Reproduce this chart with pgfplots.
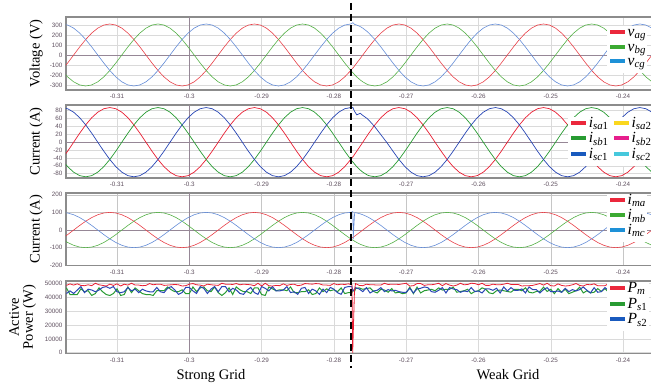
\documentclass[border=0pt]{standalone}
\usepackage{pgfplots}
\pgfplotsset{compat=1.18}
\usepackage{pgfplotstable}
\usepackage{fontspec}
\setmainfont{Liberation Serif}
\setsansfont{Liberation Sans}

\definecolor{lred}{RGB}{232,64,72}
\definecolor{lgreen}{RGB}{84,176,70}
\definecolor{lblue}{RGB}{100,140,215}
\definecolor{dred}{RGB}{232,30,50}
\definecolor{dgreen}{RGB}{40,155,50}
\definecolor{dblue}{RGB}{40,70,180}
\definecolor{legred}{RGB}{235,40,60}
\definecolor{leggreen}{RGB}{60,170,50}
\definecolor{legblue}{RGB}{30,145,215}
\definecolor{legdblue}{RGB}{25,90,190}
\definecolor{legyellow}{RGB}{250,215,30}
\definecolor{legmag}{RGB}{230,30,140}
\definecolor{legcyan}{RGB}{70,200,220}
\definecolor{tickc}{RGB}{95,80,95}
\definecolor{framec}{RGB}{140,140,140}
\definecolor{gridc}{RGB}{218,218,218}
\definecolor{zeroc}{RGB}{150,135,150}

\pgfplotstableread{
t va vb vc ia ib ic ma mb mc
-0.317667 -155 -155 310 -44 -44 88 -50 -50 100
-0.316833 -80.2 -219.2 299.4 -22.8 -62.2 85.0 -25.9 -70.7 96.6
-0.316000 0 -268.5 268.5 0 -76.2 76.2 0 -86.6 86.6
-0.315167 80.2 -299.4 219.2 22.8 -85.0 62.2 25.9 -96.6 70.7
-0.314333 155 -310 155 44 -88 44 50 -100 50
-0.313500 219.2 -299.4 80.2 62.2 -85.0 22.8 70.7 -96.6 25.9
-0.312667 268.5 -268.5 0 76.2 -76.2 0 86.6 -86.6 0
-0.311833 299.4 -219.2 -80.2 85.0 -62.2 -22.8 96.6 -70.7 -25.9
-0.311000 310 -155 -155 88 -44 -44 100 -50 -50
-0.310167 299.4 -80.2 -219.2 85.0 -22.8 -62.2 96.6 -25.9 -70.7
-0.309333 268.5 0 -268.5 76.2 0 -76.2 86.6 0 -86.6
-0.308500 219.2 80.2 -299.4 62.2 22.8 -85.0 70.7 25.9 -96.6
-0.307667 155 155 -310 44 44 -88 50 50 -100
-0.306833 80.2 219.2 -299.4 22.8 62.2 -85.0 25.9 70.7 -96.6
-0.306000 0 268.5 -268.5 0 76.2 -76.2 0 86.6 -86.6
-0.305167 -80.2 299.4 -219.2 -22.8 85.0 -62.2 -25.9 96.6 -70.7
-0.304333 -155 310 -155 -44 88 -44 -50 100 -50
-0.303500 -219.2 299.4 -80.2 -62.2 85.0 -22.8 -70.7 96.6 -25.9
-0.302667 -268.5 268.5 0 -76.2 76.2 0 -86.6 86.6 0
-0.301833 -299.4 219.2 80.2 -85.0 62.2 22.8 -96.6 70.7 25.9
-0.301000 -310 155 155 -88 44 44 -100 50 50
-0.300167 -299.4 80.2 219.2 -85.0 22.8 62.2 -96.6 25.9 70.7
-0.299333 -268.5 0 268.5 -76.2 0 76.2 -86.6 0 86.6
-0.298500 -219.2 -80.2 299.4 -62.2 -22.8 85.0 -70.7 -25.9 96.6
-0.297667 -155 -155 310 -44 -44 88 -50 -50 100
-0.296833 -80.2 -219.2 299.4 -22.8 -62.2 85.0 -25.9 -70.7 96.6
-0.296000 0 -268.5 268.5 0 -76.2 76.2 0 -86.6 86.6
-0.295167 80.2 -299.4 219.2 22.8 -85.0 62.2 25.9 -96.6 70.7
-0.294333 155 -310 155 44 -88 44 50 -100 50
-0.293500 219.2 -299.4 80.2 62.2 -85.0 22.8 70.7 -96.6 25.9
-0.292667 268.5 -268.5 0 76.2 -76.2 0 86.6 -86.6 0
-0.291833 299.4 -219.2 -80.2 85.0 -62.2 -22.8 96.6 -70.7 -25.9
-0.291000 310 -155 -155 88 -44 -44 100 -50 -50
-0.290167 299.4 -80.2 -219.2 85.0 -22.8 -62.2 96.6 -25.9 -70.7
-0.289333 268.5 0 -268.5 76.2 0 -76.2 86.6 0 -86.6
-0.288500 219.2 80.2 -299.4 62.2 22.8 -85.0 70.7 25.9 -96.6
-0.287667 155 155 -310 44 44 -88 50 50 -100
-0.286833 80.2 219.2 -299.4 22.8 62.2 -85.0 25.9 70.7 -96.6
-0.286000 0 268.5 -268.5 0 76.2 -76.2 0 86.6 -86.6
-0.285167 -80.2 299.4 -219.2 -22.8 85.0 -62.2 -25.9 96.6 -70.7
-0.284333 -155 310 -155 -44 88 -44 -50 100 -50
-0.283500 -219.2 299.4 -80.2 -62.2 85.0 -22.8 -70.7 96.6 -25.9
-0.282667 -268.5 268.5 0 -76.2 76.2 0 -86.6 86.6 0
-0.281833 -299.4 219.2 80.2 -85.0 62.2 22.8 -96.6 70.7 25.9
-0.281000 -310 155 155 -88 44 44 -100 50 50
-0.280167 -299.4 80.2 219.2 -85.0 22.8 62.2 -96.6 25.9 70.7
-0.279333 -268.5 0 268.5 -76.2 0 76.2 -86.6 0 86.6
-0.278500 -219.2 -80.2 299.4 -62.2 -22.8 85.0 -70.7 -25.9 96.6
-0.277667 -155 -155 310 -44 -44 88 -50 -50 100
-0.277370 -129.5 -179.2 323 -36.8 -50.9 88.6 -41.8 -57.8 105
-0.277330 -128.3 -179.9 321 -36.4 -51.2 86 -41.4 -58.2 -52
-0.277130 -108.1 -197.6 305.7 -30.7 -56.1 78 -34.9 -63.7 98.6
-0.276833 -80.2 -219.2 299.4 -22.8 -62.2 69.5 -25.9 -70.7 96.6
-0.276360 -35.1 -249.2 284.3 -10.0 -70.8 73.4 -11.3 -80.4 91.7
-0.276000 0 -268.5 268.5 0 -76.2 68 0 -86.6 86.6
-0.275440 54.4 -291.5 237.2 15.4 -82.7 60.7 17.5 -94.0 76.5
-0.275167 80.2 -299.4 219.2 22.8 -85.0 56 25.9 -96.6 70.7
-0.274333 155 -310 155 44 -88 39 50 -100 50
-0.273500 219.2 -299.4 80.2 62.2 -85.0 19 70.7 -96.6 25.9
-0.272667 268.5 -268.5 0 76.2 -76.2 -1 86.6 -86.6 0
-0.271833 299.4 -219.2 -80.2 85.0 -62.2 -22.8 96.6 -70.7 -25.9
-0.271000 310 -155 -155 88 -44 -44 100 -50 -50
-0.270167 299.4 -80.2 -219.2 85.0 -22.8 -62.2 96.6 -25.9 -70.7
-0.269333 268.5 0 -268.5 76.2 0 -76.2 86.6 0 -86.6
-0.268500 219.2 80.2 -299.4 62.2 22.8 -85.0 70.7 25.9 -96.6
-0.267667 155 155 -310 44 44 -88 50 50 -100
-0.266833 80.2 219.2 -299.4 22.8 62.2 -85.0 25.9 70.7 -96.6
-0.266000 0 268.5 -268.5 0 76.2 -76.2 0 86.6 -86.6
-0.265167 -80.2 299.4 -219.2 -22.8 85.0 -62.2 -25.9 96.6 -70.7
-0.264333 -155 310 -155 -44 88 -44 -50 100 -50
-0.263500 -219.2 299.4 -80.2 -62.2 85.0 -22.8 -70.7 96.6 -25.9
-0.262667 -268.5 268.5 0 -76.2 76.2 0 -86.6 86.6 0
-0.261833 -299.4 219.2 80.2 -85.0 62.2 22.8 -96.6 70.7 25.9
-0.261000 -310 155 155 -88 44 44 -100 50 50
-0.260167 -299.4 80.2 219.2 -85.0 22.8 62.2 -96.6 25.9 70.7
-0.259333 -268.5 0 268.5 -76.2 0 76.2 -86.6 0 86.6
-0.258500 -219.2 -80.2 299.4 -62.2 -22.8 85.0 -70.7 -25.9 96.6
-0.257667 -155 -155 310 -44 -44 88 -50 -50 100
-0.256833 -80.2 -219.2 299.4 -22.8 -62.2 85.0 -25.9 -70.7 96.6
-0.256000 0 -268.5 268.5 0 -76.2 76.2 0 -86.6 86.6
-0.255167 80.2 -299.4 219.2 22.8 -85.0 62.2 25.9 -96.6 70.7
-0.254333 155 -310 155 44 -88 44 50 -100 50
-0.253500 219.2 -299.4 80.2 62.2 -85.0 22.8 70.7 -96.6 25.9
-0.252667 268.5 -268.5 0 76.2 -76.2 0 86.6 -86.6 0
-0.251833 299.4 -219.2 -80.2 85.0 -62.2 -22.8 96.6 -70.7 -25.9
-0.251000 310 -155 -155 88 -44 -44 100 -50 -50
-0.250167 299.4 -80.2 -219.2 85.0 -22.8 -62.2 96.6 -25.9 -70.7
-0.249333 268.5 0 -268.5 76.2 0 -76.2 86.6 0 -86.6
-0.248500 219.2 80.2 -299.4 62.2 22.8 -85.0 70.7 25.9 -96.6
-0.247667 155 155 -310 44 44 -88 50 50 -100
-0.246833 80.2 219.2 -299.4 22.8 62.2 -85.0 25.9 70.7 -96.6
-0.246000 0 268.5 -268.5 0 76.2 -76.2 0 86.6 -86.6
-0.245167 -80.2 299.4 -219.2 -22.8 85.0 -62.2 -25.9 96.6 -70.7
-0.244333 -155 310 -155 -44 88 -44 -50 100 -50
-0.243500 -219.2 299.4 -80.2 -62.2 85.0 -22.8 -70.7 96.6 -25.9
-0.242667 -268.5 268.5 0 -76.2 76.2 0 -86.6 86.6 0
-0.241833 -299.4 219.2 80.2 -85.0 62.2 22.8 -96.6 70.7 25.9
-0.241000 -310 155 155 -88 44 44 -100 50 50
-0.240167 -299.4 80.2 219.2 -85.0 22.8 62.2 -96.6 25.9 70.7
-0.239333 -268.5 0 268.5 -76.2 0 76.2 -86.6 0 86.6
-0.238500 -219.2 -80.2 299.4 -62.2 -22.8 85.0 -70.7 -25.9 96.6
-0.237667 -155 -155 310 -44 -44 88 -50 -50 100
-0.236833 -80.2 -219.2 299.4 -22.8 -62.2 85.0 -25.9 -70.7 96.6
-0.236000 0 -268.5 268.5 0 -76.2 76.2 0 -86.6 86.6
-0.235167 80.2 -299.4 219.2 22.8 -85.0 62.2 25.9 -96.6 70.7
}\sine

\pgfplotstableread{
t pm ps1 ps2
-0.3170 48440 46640 42620
-0.3165 49540 41880 44480
-0.3160 48660 41880 42620
-0.3155 49540 41880 45100
-0.3150 48440 45960 47580
-0.3145 48220 43920 43240
-0.3140 48880 44600 45720
-0.3135 48220 41200 45100
-0.3130 49980 42560 43860
-0.3125 48880 46640 45100
-0.3120 48440 43920 46960
-0.3115 48000 41880 47580
-0.3110 49320 41200 46340
-0.3105 48440 42560 47580
-0.3100 49540 45960 43860
-0.3095 48000 41200 43240
-0.3090 49320 41880 43860
-0.3085 48660 47320 46960
-0.3080 49980 43240 44480
-0.3075 48660 46640 45720
-0.3070 48660 44600 43240
-0.3065 48220 42560 45720
-0.3060 48440 41880 44480
-0.3055 49760 41880 43860
-0.3050 48880 41200 43860
-0.3045 49320 44600 46960
-0.3040 49320 44600 43860
-0.3035 48440 44600 43240
-0.3030 48660 47320 46340
-0.3025 48880 45280 47580
-0.3020 49100 43920 45100
-0.3015 48880 43920 42000
-0.3010 48000 45280 43240
-0.3005 48220 42560 46960
-0.3000 49320 42560 46960
-0.2995 49760 47320 44480
-0.2990 48880 43920 42620
-0.2985 48660 46640 47580
-0.2980 48000 47320 46340
-0.2975 49320 44600 42620
-0.2970 48880 43920 45720
-0.2965 48660 47320 47580
-0.2960 48440 43240 43860
-0.2955 49980 41200 47580
-0.2950 49320 43240 47580
-0.2945 49320 46640 43860
-0.2940 49100 41880 46340
-0.2935 49760 47320 45100
-0.2930 48880 45280 42620
-0.2925 49320 43920 42000
-0.2920 49100 43920 45100
-0.2915 48880 42560 46960
-0.2910 48220 46640 43240
-0.2905 49980 46640 42000
-0.2900 48000 41880 47580
-0.2895 49980 41200 46340
-0.2890 48220 47320 44480
-0.2885 48000 45960 47580
-0.2880 48440 44600 44480
-0.2875 48220 45280 44480
-0.2870 49540 45280 45100
-0.2865 48440 44600 47580
-0.2860 49100 47320 43240
-0.2855 49320 43240 43860
-0.2850 48220 43240 42000
-0.2845 48660 43920 46340
-0.2840 49760 43920 46960
-0.2835 49540 45280 42620
-0.2830 49320 41880 45720
-0.2825 49760 42560 44480
-0.2820 49540 46640 42000
-0.2815 48660 43920 45720
-0.2810 48660 45960 43240
-0.2805 48440 44600 46960
-0.2800 49760 45280 45720
-0.2795 48880 43920 43240
-0.2790 49320 46640 42000
-0.2785 49100 42560 46960
-0.2780 49540 43240 47580
-0.2775 48880 43240 47580
-0.27740 0 45000 44500
-0.27715 45000 44000 45500
-0.2770 49760 46140 46840
-0.2765 48440 46660 45880
-0.2760 48220 45620 43960
-0.2755 49320 46140 46840
-0.2750 48880 46660 43000
-0.2745 48880 44060 44440
-0.2740 48660 43020 44920
-0.2735 48660 45620 46840
-0.2730 49980 45100 43960
-0.2725 49100 43540 45400
-0.2720 49320 46140 44440
-0.2715 49320 43020 44920
-0.2710 49100 43540 43960
-0.2705 49540 42500 43480
-0.2700 49980 43020 43480
-0.2695 48000 47180 46360
-0.2690 48220 42500 43000
-0.2685 49760 47180 45880
-0.2680 49760 43020 46360
-0.2675 48440 44580 47320
-0.2670 48880 45100 46840
-0.2665 48880 45620 43960
-0.2660 49320 44580 43480
-0.2655 49980 46660 44920
-0.2650 48220 45100 46840
-0.2645 49760 45620 43000
-0.2640 48660 45620 46840
-0.2635 48000 47180 45880
-0.2630 48660 43540 45400
-0.2625 49980 44060 43480
-0.2620 48880 44580 44440
-0.2615 49100 45620 43960
-0.2610 49980 42500 46840
-0.2605 49760 44060 43960
-0.2600 48880 44580 44440
-0.2595 49980 46660 43000
-0.2590 48440 45620 45880
-0.2585 48440 43020 45880
-0.2580 49320 42500 44920
-0.2575 48880 44580 46360
-0.2570 48880 45100 43000
-0.2565 49320 44580 47320
-0.2560 49980 44060 44440
-0.2555 49100 43540 46840
-0.2550 49100 45620 44920
-0.2545 49100 45620 44920
-0.2540 48000 44580 45880
-0.2535 48220 46660 43000
-0.2530 48220 43540 47320
-0.2525 48440 43020 45400
-0.2520 49100 44060 45400
-0.2515 49760 44060 43000
-0.2510 48660 47180 45400
-0.2505 49980 44060 46840
-0.2500 48220 45620 43960
-0.2495 48000 42500 43960
-0.2490 49540 46140 44440
-0.2485 48440 43540 43480
-0.2480 48000 45620 46360
-0.2475 48220 42500 43960
-0.2470 48880 43540 45400
-0.2465 49760 44580 44440
-0.2460 48440 47180 45400
-0.2455 48000 43020 47320
-0.2450 49100 44580 44920
-0.2445 48880 43020 43000
-0.2440 49540 43540 46840
-0.2435 48220 46140 43480
-0.2430 48220 44060 43960
-0.2425 48220 46140 46840
-0.2420 49760 43540 44920
}\power

\pgfplotsset{
  panel/.style={
    scale only axis, width=590pt,
    xmin=-0.31706, xmax=-0.23544,
    xtick={-0.31,-0.30,-0.29,-0.28,-0.27,-0.26,-0.25,-0.24},
    major tick length=0pt,
    grid=major, major grid style={gridc, line width=0.5pt},
    axis line style={framec, line width=1.3pt},
    tick label style={font=\sffamily\fontsize{6.3}{7}\selectfont, text=tickc},
    /pgf/number format/assume math mode=true,
    scaled ticks=false,
    /pgf/number format/set thousands separator={},
    xticklabel style={/pgf/number format/fixed, /pgf/number format/precision=2, yshift=-1pt},
    extra x ticks={-0.3}, extra x tick labels={},
    extra tick style={grid=major, major grid style={zeroc, line width=0.8pt}},
    ylabel style={font=\fontsize{14.5}{14}\selectfont, at={(axis description cs:-0.0449,0.5)}, anchor=base},
    legend style={draw=none, fill=white, font=\fontsize{15.5}{16}\selectfont,
      inner xsep=1pt, inner ysep=2.5pt,
      nodes={inner sep=0.5pt, text height=7.5pt, text depth=4.5pt}},
    legend cell align=left,
    legend image code/.code={\draw[#1, line width=4pt] (0pt,3pt) -- (15pt,3pt);},
  }
}

\begin{document}
\begin{tikzpicture}
\useasboundingbox (0,0) rectangle (651pt,388pt);

% ---------- Panel 1 : grid voltages
\begin{axis}[panel, at={(66pt,298pt)}, anchor=south west, height=73pt,
  ymin=-350, ymax=380, ytick={-300,-200,-100,0,100,200,300},
  extra y ticks={0}, extra y tick labels={},
  ylabel={Voltage (V)},
  legend style={at={(axis description cs:0.917,0.875)}, anchor=north west, row sep=1.2pt}]
\addplot[lred, line width=0.6pt, forget plot] table[x=t,y=va]{\sine};
\addplot[lgreen, line width=0.6pt, forget plot] table[x=t,y=vb]{\sine};
\addplot[lblue, line width=0.6pt, forget plot] table[x=t,y=vc]{\sine};
\addlegendimage{legred}\addlegendentry{\textit{v}\textsubscript{\textit{ag}}}
\addlegendimage{leggreen}\addlegendentry{\textit{v}\textsubscript{\textit{bg}}}
\addlegendimage{legblue}\addlegendentry{\textit{v}\textsubscript{\textit{cg}}}
\end{axis}

% ---------- Panel 2 : converter currents
\begin{axis}[panel, at={(66pt,210pt)}, anchor=south west, height=73pt,
  ymin=-91, ymax=94.5, ytick={-80,-60,-40,-20,0,20,40,60,80},
  extra y ticks={0}, extra y tick labels={},
  ylabel={Current (A)},
  legend columns=2,
  legend style={at={(axis description cs:0.851,0.845)}, anchor=north west, row sep=2.5pt,
    /tikz/every even column/.append style={column sep=3pt}}]
\addplot[dred, line width=0.7pt, forget plot] table[x=t,y=ia]{\sine};
\addplot[dgreen, line width=0.7pt, forget plot] table[x=t,y=ib]{\sine};
\addplot[dblue, line width=0.7pt, forget plot] table[x=t,y=ic]{\sine};
\addlegendimage{legred}\addlegendentry{\textit{i}\textsubscript{\textit{sa}1}}
\addlegendimage{legyellow}\addlegendentry{\textit{i}\textsubscript{\textit{sa}2}}
\addlegendimage{dgreen}\addlegendentry{\textit{i}\textsubscript{\textit{sb}1}}
\addlegendimage{legmag}\addlegendentry{\textit{i}\textsubscript{\textit{sb}2}}
\addlegendimage{legdblue}\addlegendentry{\textit{i}\textsubscript{\textit{sc}1}}
\addlegendimage{legcyan}\addlegendentry{\textit{i}\textsubscript{\textit{sc}2}}
\end{axis}

% ---------- Panel 3 : machine currents
\begin{axis}[panel, at={(66pt,122.7pt)}, anchor=south west, height=72.3pt,
  ymin=-200, ymax=210, ytick={-200,-100,0,100,200},
  major grid style={gray!45, line width=0.5pt},
  extra y ticks={0}, extra y tick labels={},
  ylabel={Current (A)},
  legend style={at={(axis description cs:0.917,0.985)}, anchor=north west, row sep=1.8pt}]
\addplot[lred, line width=0.6pt, forget plot] table[x=t,y=ma]{\sine};
\addplot[lgreen, line width=0.6pt, forget plot] table[x=t,y=mb]{\sine};
\addplot[lblue, line width=0.6pt, forget plot] table[x=t,y=mc]{\sine};
\addlegendimage{legred}\addlegendentry{\textit{i}\textsubscript{\textit{ma}}}
\addlegendimage{leggreen}\addlegendentry{\textit{i}\textsubscript{\textit{mb}}}
\addlegendimage{legblue}\addlegendentry{\textit{i}\textsubscript{\textit{mc}}}
\end{axis}

% ---------- Panel 4 : active power
\begin{axis}[panel, at={(66pt,34.7pt)}, anchor=south west, height=72.3pt,
  ymin=-400, ymax=51600, ytick={0,10000,20000,30000,40000,50000},
  ylabel={Active\\Power (W)},
  ylabel style={align=center, anchor=center, at={(axis description cs:-0.0737,0.5)}},
  legend style={at={(axis description cs:0.917,0.985)}, anchor=north west, row sep=2.5pt}]
\addplot[dgreen, line width=1pt, forget plot] table[x=t,y=ps1]{\power};
\addplot[dblue, line width=1pt, forget plot] table[x=t,y=ps2]{\power};
\addplot[dred, line width=0.8pt, forget plot] table[x=t,y=pm]{\power};
\addlegendimage{legred}\addlegendentry{\textit{P}\textsubscript{\textit{m}}}
\addlegendimage{dgreen}\addlegendentry{\textit{P}\textsubscript{\textit{s}1}}
\addlegendimage{legdblue}\addlegendentry{\textit{P}\textsubscript{\textit{s}2}}
\end{axis}

\draw[black, line width=1.6pt, dash pattern=on 7pt off 4pt] (351pt,385pt) -- (351pt,20pt);
\node[font=\fontsize{14.5}{16}\selectfont, anchor=base] at (211pt,8.5pt) {Strong Grid};
\node[font=\fontsize{14.5}{16}\selectfont, anchor=base] at (508pt,8.5pt) {Weak Grid};
\end{tikzpicture}
\end{document}
